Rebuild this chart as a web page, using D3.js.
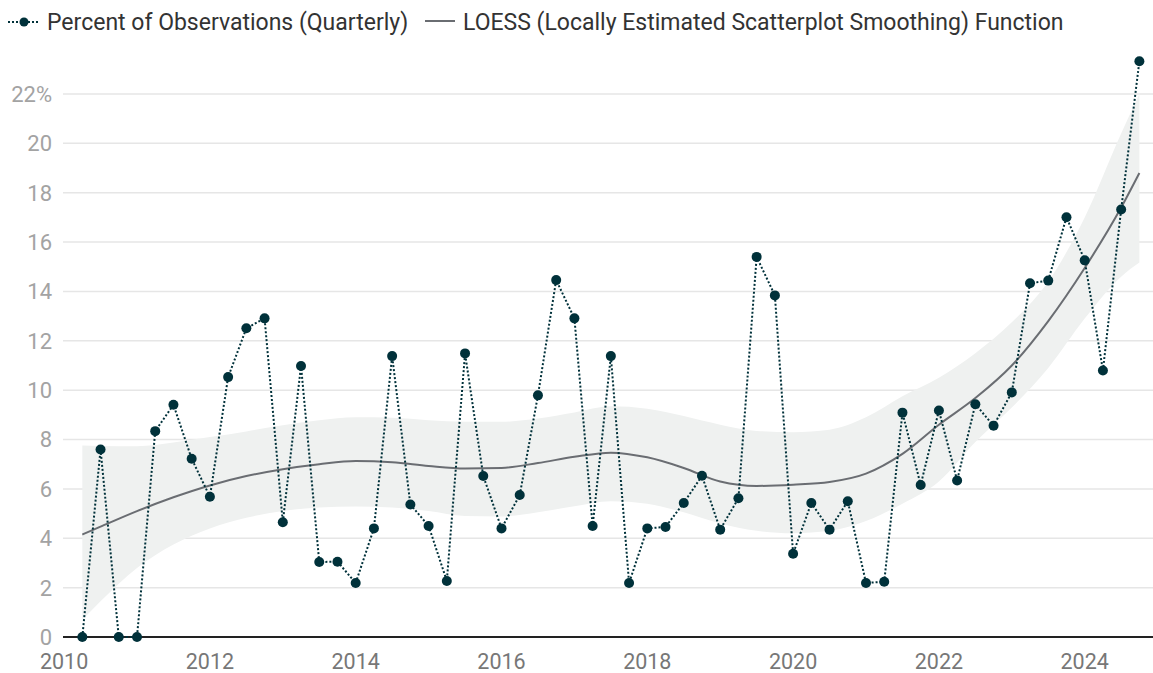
<!DOCTYPE html>
<html lang="en">
<head>
<meta charset="utf-8">
<title>Percent of Observations (Quarterly)</title>
<script src="https://cdn.jsdelivr.net/npm/d3@7"></script>
<style>
  body { margin: 0; background: #fff; }
  svg { display: block; font-family: Roboto, "Noto Sans", sans-serif; }
  .grid line { stroke: #e6e6e6; stroke-width: 1.5; }
  .ylab { fill: #a3a3a3; font-size: 22px; }
  .xlab { fill: #777; font-size: 21.5px; }
  .legend text { fill: #333; font-size: 23px; }
</style>
</head>
<body>
<svg id="chart"></svg>
<script>
// quarterly observations, plotted at quarter positions 2010.25 ... 2024.75
var quarters = d3.range(2010.25, 2024.76, 0.25);
var percent = [
  0, 7.60, 0, 0, 8.34, 9.41, 7.22, 5.68, 10.53, 12.51, 12.91, 4.65, 10.98, 3.04,
  3.05, 2.19, 4.40, 11.38, 5.37, 4.50, 2.27, 11.49, 6.52, 4.40, 5.75, 9.79,
  14.46, 12.91, 4.50, 11.38, 2.19, 4.40, 4.46, 5.43, 6.53, 4.35, 5.62, 15.40,
  13.84, 3.37, 5.43, 4.35, 5.50, 2.19, 2.24, 9.09, 6.16, 9.18, 6.34, 9.43,
  8.56, 9.91, 14.33, 14.44, 17.01, 15.26, 10.80, 17.32, 23.33
];

var loessYears = [2010.25, 2010.5, 2011, 2011.5, 2012, 2012.5, 2013, 2013.5, 2014, 2014.5,
  2015, 2015.5, 2016, 2016.5, 2017, 2017.5, 2018, 2018.5, 2019, 2019.5, 2020, 2020.5,
  2021, 2021.5, 2022, 2022.5, 2023, 2023.5, 2024, 2024.5, 2024.75];
var loessFit = [4.15, 4.47, 5.1, 5.66, 6.14, 6.52, 6.80, 7.0, 7.13, 7.08,
  6.93, 6.83, 6.85, 7.05, 7.3, 7.47, 7.28, 6.85, 6.3, 6.12, 6.17, 6.28,
  6.62, 7.42, 8.6, 9.68, 11.0, 12.8, 14.95, 17.4, 18.8];
var loessUpper = [7.76, 7.74, 7.73, 7.88, 8.1, 8.33, 8.58, 8.78, 8.9, 8.88,
  8.78, 8.72, 8.72, 8.85, 9.1, 9.35, 9.25, 8.95, 8.6, 8.35, 8.3, 8.4,
  8.9, 9.75, 10.5, 11.5, 12.75, 14.4, 17.0, 20.4, 22.0];
var loessLower = [0.7, 1.45, 2.8, 3.75, 4.4, 4.83, 5.1, 5.25, 5.29, 5.25,
  5.1, 4.9, 4.88, 5.05, 5.3, 5.5, 5.4, 5.05, 4.6, 4.3, 4.2, 4.3,
  4.7, 5.4, 6.3, 7.9, 9.3, 10.9, 12.9, 14.6, 15.17];

var yTicks = [0, 2, 4, 6, 8, 10, 12, 14, 16, 18, 20, 22];
var xTicks = [2010, 2012, 2014, 2016, 2018, 2020, 2022, 2024];

var W = 1153, H = 673;
var left = 63, right = 1153, bottom = 637;

var svg = d3.select("#chart").attr("width", W).attr("height", H);

var x = d3.scaleLinear().domain([2010, 2024]).range([64.1, 1084.7]);
var y = d3.scaleLinear().domain([0, 22]).range([bottom, 94]);

// gridlines
svg.append("g").attr("class", "grid")
  .selectAll("line").data(yTicks.filter(function(d) { return d > 0; }))
  .enter().append("line")
  .attr("x1", left).attr("x2", right)
  .attr("y1", function(d) { return y(d); }).attr("y2", function(d) { return y(d); });

// y labels
svg.append("g").selectAll("text").data(yTicks).enter().append("text")
  .attr("class", "ylab")
  .attr("x", 52)
  .attr("y", function(d) { return y(d); })
  .attr("dy", "0.36em")
  .attr("text-anchor", "end")
  .text(function(d) { return d === 22 ? d + "%" : d; });

// x labels
svg.append("g").selectAll("text").data(xTicks).enter().append("text")
  .attr("class", "xlab")
  .attr("x", function(d) { return x(d); })
  .attr("y", 669)
  .attr("text-anchor", "middle")
  .text(function(d) { return d; });

// confidence band
var band = d3.area()
  .x(function(d, i) { return x(loessYears[i]); })
  .y0(function(d, i) { return y(loessLower[i]); })
  .y1(function(d, i) { return y(loessUpper[i]); })
  .curve(d3.curveMonotoneX);
svg.append("path").datum(loessYears)
  .attr("d", band)
  .attr("fill", "#eff1f0");

// loess line
var fitLine = d3.line()
  .x(function(d, i) { return x(loessYears[i]); })
  .y(function(d, i) { return y(loessFit[i]); })
  .curve(d3.curveMonotoneX);
svg.append("path").datum(loessYears)
  .attr("d", fitLine)
  .attr("fill", "none")
  .attr("stroke", "#6a6d72")
  .attr("stroke-width", 2);

// baseline
svg.append("line")
  .attr("x1", left).attr("x2", right)
  .attr("y1", bottom).attr("y2", bottom)
  .attr("stroke", "#222").attr("stroke-width", 2);

// observations
var obsLine = d3.line()
  .x(function(d, i) { return x(quarters[i]); })
  .y(function(d) { return y(d); });
svg.append("path").datum(percent)
  .attr("d", obsLine)
  .attr("fill", "none")
  .attr("stroke", "#00313a")
  .attr("stroke-width", 2)
  .attr("stroke-dasharray", "2,2");

svg.append("g").selectAll("circle").data(percent).enter().append("circle")
  .attr("cx", function(d, i) { return x(quarters[i]); })
  .attr("cy", function(d) { return y(d); })
  .attr("r", 5)
  .attr("fill", "#00313a");

// legend
var lg = svg.append("g").attr("class", "legend");
lg.append("line")
  .attr("x1", 8).attr("x2", 40).attr("y1", 22).attr("y2", 22)
  .attr("stroke", "#00313a").attr("stroke-width", 2).attr("stroke-dasharray", "2,2");
lg.append("circle").attr("cx", 24).attr("cy", 22).attr("r", 4.5).attr("fill", "#00313a");
lg.append("text").attr("x", 47).attr("y", 22).attr("dy", "0.36em")
  .text("Percent of Observations (Quarterly)");
lg.append("line")
  .attr("x1", 425).attr("x2", 455).attr("y1", 21).attr("y2", 21)
  .attr("stroke", "#6a6d72").attr("stroke-width", 2);
lg.append("text").attr("x", 463).attr("y", 22).attr("dy", "0.36em")
  .text("LOESS (Locally Estimated Scatterplot Smoothing) Function");
</script>
</body>
</html>
